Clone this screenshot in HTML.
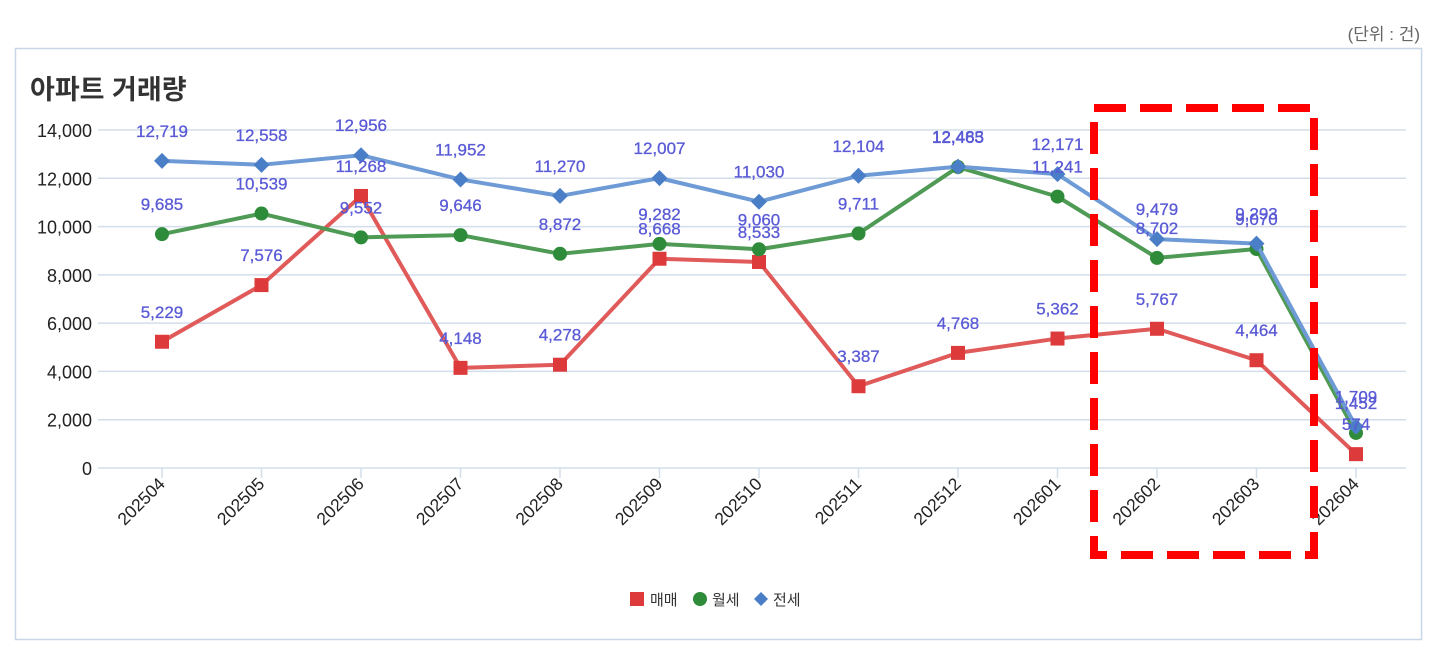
<!DOCTYPE html><html><head><meta charset="utf-8"><style>body{margin:0;background:#fff}svg{display:block}text{font-family:"Liberation Sans","Noto Sans CJK KR",sans-serif}</style></head><body>
<svg width="1433" height="647" xmlns="http://www.w3.org/2000/svg">
<text x="1420" y="40" font-size="17" fill="#666" text-anchor="end">(단위 : 건)</text>
<rect x="15.5" y="48.5" width="1406" height="591" fill="#fff" stroke="#c8d6e8" stroke-width="1.5"/>
<text x="30" y="99" font-size="27" font-weight="bold" fill="#333">아파트 거래량</text>
<g id="g"></g>
<script>
const NS="http://www.w3.org/2000/svg",g=document.getElementById('g');
function el(t,a,txt){const e=document.createElementNS(NS,t);for(const k in a)e.setAttribute(k,a[k]);if(txt!=null)e.textContent=txt;g.appendChild(e);return e;}
const Y=v=>468-v*338/14000,X=i=>162+i*99.5;
for(let v=0;v<=14000;v+=2000){el('line',{x1:98,x2:1406,y1:Y(v),y2:Y(v),stroke:'#d3deeb','stroke-width':1.5});el('text',{x:92,y:Y(v)+7,'font-size':18,fill:'#222','text-anchor':'end'},v.toLocaleString('en-US'));}
const labs=['202504','202505','202506','202507','202508','202509','202510','202511','202512','202601','202602','202603','202604'];
labs.forEach((l,i)=>{el('line',{x1:X(i),x2:X(i),y1:468,y2:478,stroke:'#d3deeb','stroke-width':1.5});el('text',{transform:`translate(${X(i)+4},485) rotate(-45)`,'font-size':17.5,fill:'#222','text-anchor':'end'},l);});
const S=[
{c:'#e05a5a',m:'#dd3b3b',t:'s',d:[5229,7576,11268,4148,4278,8668,8533,3387,4768,5362,5767,4464,574]},
{c:'#4f9a55',m:'#2e8b3a',t:'c',d:[9685,10539,9552,9646,8872,9282,9060,9711,12465,11241,8702,9070,1452]},
{c:'#6e9bd6',m:'#4a7fc8',t:'d',d:[12719,12558,12956,11952,11270,12007,11030,12104,12483,12171,9479,9293,1709]}];
S.forEach(s=>{el('polyline',{points:s.d.map((v,i)=>X(i)+','+Y(v)).join(' '),fill:'none',stroke:s.c,'stroke-width':4,'stroke-linejoin':'round'});
s.d.forEach((v,i)=>{const x=X(i),y=Y(v);if(s.t=='s')el('rect',{x:x-7,y:y-7,width:14,height:14,fill:s.m});else if(s.t=='c')el('circle',{cx:x,cy:y,r:7,fill:s.m});else el('path',{d:`M${x} ${y-8}L${x+8} ${y}L${x} ${y+8}L${x-8} ${y}Z`,fill:s.m});});});
S.forEach(s=>s.d.forEach((v,i)=>el('text',{x:X(i),y:Y(v)-24,'font-size':17,fill:'#5a5ad6','text-anchor':'middle','stroke':'#5a5ad6','stroke-width':0.3},v.toLocaleString('en-US'))));
el('rect',{x:1094,y:108,width:220,height:447,fill:'none',stroke:'#f00','stroke-width':8,'stroke-dasharray':'32 14'});
el('rect',{x:630,y:592,width:14,height:14,fill:'#dd3b3b'});el('text',{x:650,y:605,'font-size':15,fill:'#333'},'매매');
el('circle',{cx:700,cy:599,r:7,fill:'#2e8b3a'});el('text',{x:712,y:605,'font-size':15,fill:'#333'},'월세');
el('path',{d:'M761 592L768 599L761 606L754 599Z',fill:'#4a7fc8'});el('text',{x:773,y:605,'font-size':15,fill:'#333'},'전세');
</script>
</svg></body></html>
